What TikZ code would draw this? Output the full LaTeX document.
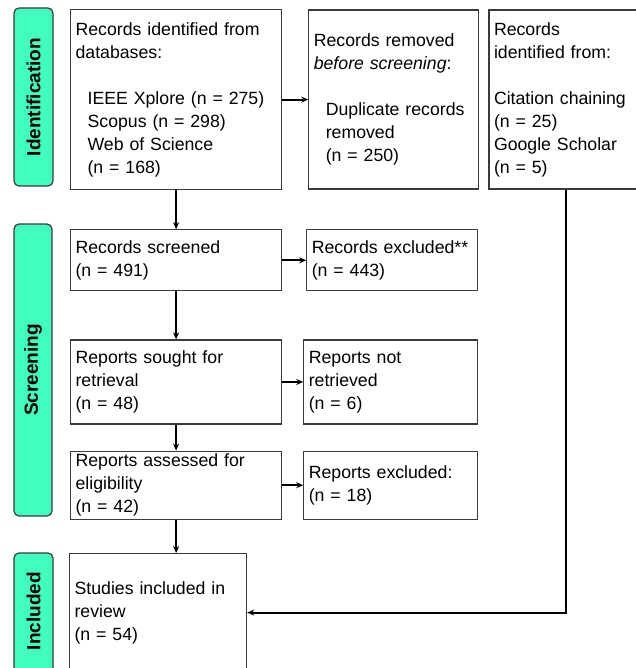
\documentclass[tikz,border=0pt]{standalone}
\usepackage{fontspec}
\setmainfont{Liberation Sans}
\usepackage{xcolor}
\definecolor{edge}{HTML}{3A3A3A}
\definecolor{aqua}{HTML}{41FDC0}
\usetikzlibrary{arrows.meta,positioning}
\tikzset{
  every picture/.style={x=1pt, y=-1pt},
  box/.style={draw=edge, line width=1.2pt, fill=white, align=left, inner xsep=5pt, inner ysep=0pt, text width=#1, font=\fontsize{17.7}{23}\selectfont},
  box/.default=201pt,
  lane/.style={draw=edge, line width=1.2pt, fill=aqua, rounded corners=5pt, rotate=90, inner sep=0pt, font=\fontsize{19}{23}\selectfont\bfseries},
  arrow/.style={-{Stealth[length=7pt,width=6pt]}, line width=2pt, draw=black},
}
\newcommand{\ind}{\hspace*{12pt}}

\begin{document}
\begin{tikzpicture}
  \useasboundingbox (0,0) rectangle (635,668);

  % phases
  \node[lane, minimum width=178pt, minimum height=39pt] (lid) at (33.5,97) {Identification};
  \node[lane, minimum width=292pt, minimum height=38pt] (lscr) at (33,370) {Screening};
  \node[lane, minimum width=140pt, minimum height=39pt] (linc) at (33.5,623) {\hspace*{24pt}Included};

  % identification
  \node[box, minimum height=180pt, anchor=north west] (rdb) at (70,9)
    {Records identified from databases:\\[\baselineskip]
     \ind IEEE Xplore (n = 275)\\ \ind Scopus (n = 298)\\ \ind Web of Science\\ \ind (n = 168)};
  \node[box=160pt, minimum height=179pt, right=26pt of rdb] (rrm)
    {Records removed\\ \textit{before screening}:\\[\baselineskip]
     \ind Duplicate records\\ \ind removed\\ \ind (n = 250)};
  \node[box=144pt, minimum height=179pt, right=9pt of rrm] (roth)
    {Records\\ identified from:\\[\baselineskip]
     Citation chaining\\ (n = 25)\\ Google Scholar\\ (n = 5)};

  % screening
  \node[box, minimum height=61pt, below=39pt of rdb] (scr) {Records screened\\ (n = 491)};
  \node[box=161pt, minimum height=61pt, right=24pt of scr] (exc) {Records excluded**\\ (n = 443)};
  \node[box, minimum height=84pt, below=48pt of scr] (sought) {Reports sought for\\ retrieval\\ (n = 48)};
  \node[box=164pt, minimum height=84pt, right=21pt of sought] (notret) {Reports not\\ retrieved\\ (n = 6)};
  \node[box, minimum height=68pt, below=26pt of sought] (assess) {Reports assessed for\\ eligibility\\ (n = 42)};
  \node[box=164pt, minimum height=68pt, right=21pt of assess] (repexc) {Reports excluded:\\ (n = 18)};

  % included
  \node[box=167pt, minimum height=118pt, anchor=north west] (incl) at (69,553)
    {Studies included in\\ review\\ (n = 54)};

  \draw[arrow] (rdb.east) -- (rrm.west |- rdb.east);
  \foreach \a/\b in {rdb/scr, scr/sought, sought/assess} \draw[arrow] (\a) -- (\b);
  \foreach \a/\b in {scr/exc, sought/notret, assess/repexc} \draw[arrow] (\a.east) -- (\b.west |- \a.east);
  \draw[arrow] (assess.south) -- (assess.south |- incl.north);
  \draw[arrow] (roth.south) |- (incl.east);
\end{tikzpicture}
\end{document}
